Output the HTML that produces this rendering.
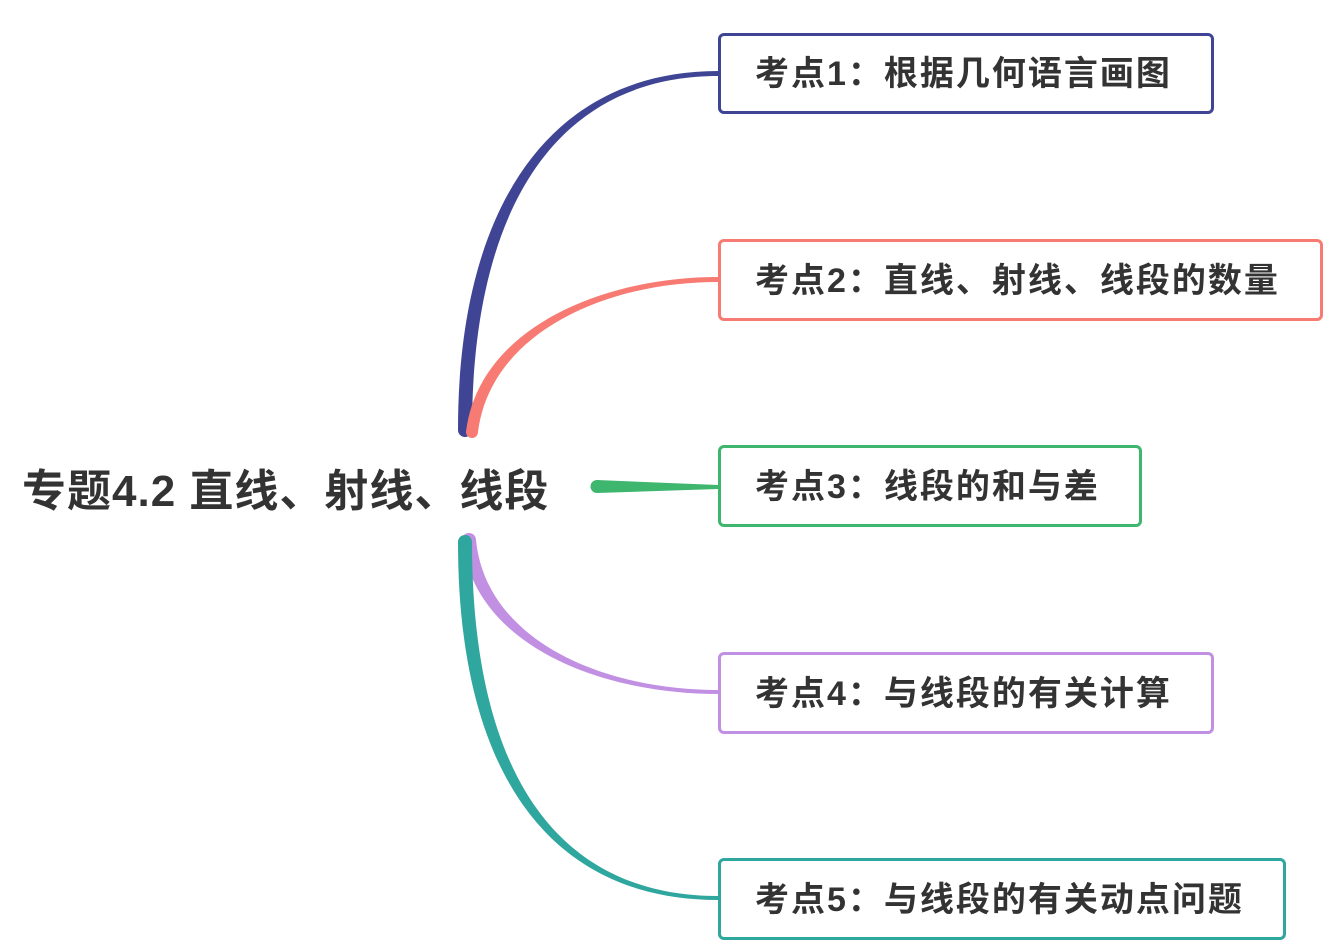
<!DOCTYPE html>
<html><head><meta charset="utf-8"><style>
body{margin:0;width:1333px;height:950px;background:#fff;overflow:hidden;position:relative;font-family:"Liberation Sans","Noto Sans CJK SC",sans-serif;}
.b{position:absolute;box-sizing:border-box;border:3px solid;border-radius:6px;background:#fff;font-weight:bold;font-size:34px;letter-spacing:2px;color:#333;padding-left:34px;padding-bottom:6px;display:flex;align-items:center;white-space:nowrap;}
.t{position:absolute;left:22px;top:455px;font-size:44px;letter-spacing:1px;font-weight:bold;color:#333;white-space:nowrap;}
</style></head><body>
<svg width="1333" height="950" style="position:absolute;left:0;top:0">
<path d="M458,430 C458,200 555,71 718,71 L718,76 C562,76 472,200 472,430 Z" fill="#3f4594"/>
<circle cx="465" cy="430" r="7" fill="#3f4594"/>
<path d="M466,432 C478,330 600,277 718,277 L718,282 C602,282 490,335 478,432 Z" fill="#f77b72"/>
<circle cx="472" cy="432" r="6" fill="#f77b72"/>
<path d="M597,480 L718,485 L718,489 L597,493 Z" fill="#3fb66e"/>
<circle cx="597" cy="486.5" r="6.5" fill="#3fb66e"/>
<path d="M462,540 C474,645 600,694 718,694 L718,690 C602,690 486,640 476,540 Z" fill="#c190e3"/>
<circle cx="469" cy="540" r="7" fill="#c190e3"/>
<path d="M458,542 C458,780 555,900 718,900 L718,896 C562,896 472,780 472,542 Z" fill="#2fa69e"/>
<circle cx="465" cy="542" r="7" fill="#2fa69e"/>
</svg>
<div class="t">专题4.2 直线、射线、线段</div>
<div class="b" style="left:718px;top:33px;width:496px;height:81px;border-color:#3f4594">考点1：根据几何语言画图</div>
<div class="b" style="left:718px;top:239px;width:605px;height:82px;border-color:#f77b72">考点2：直线、射线、线段的数量</div>
<div class="b" style="left:718px;top:445px;width:424px;height:82px;border-color:#3fb66e">考点3：线段的和与差</div>
<div class="b" style="left:718px;top:652px;width:496px;height:82px;border-color:#c190e3">考点4：与线段的有关计算</div>
<div class="b" style="left:718px;top:858px;width:568px;height:82px;border-color:#2fa69e">考点5：与线段的有关动点问题</div>
</body></html>
